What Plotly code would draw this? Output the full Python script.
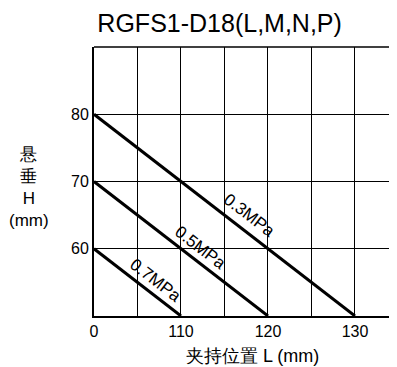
import plotly.graph_objects as go

x_tickvals = [100, 105, 110, 115, 120, 125, 130]
x_ticktext = ["0", "", "110", "", "120", "", "130"]
y_tickvals = [60, 70, 80]

series_names = ["0.3MPa", "0.5MPa", "0.7MPa"]
series_x = [[100, 130], [100, 120], [100, 110]]
series_y = [[80, 50], [70, 50], [60, 50]]
label_pos = [(117.9, 65.0), (112.2, 60.2), (107.1, 55.3)]

font = "Arial, Liberation Sans, sans-serif"
fig = go.Figure()
for n, xs, ys in zip(series_names, series_x, series_y):
    fig.add_trace(go.Scatter(x=xs, y=ys, mode="lines", name=n,
                             line=dict(color="black", width=3), showlegend=False))

for n, (lx, ly) in zip(series_names, label_pos):
    fig.add_annotation(x=lx, y=ly, text=n, showarrow=False, textangle=37.6,
                       font=dict(size=17, color="black", family=font))

fig.add_shape(type="line", xref="paper", yref="paper", x0=0, x1=1, y0=1, y1=1,
              line=dict(color="black", width=1.5))

fig.add_annotation(xref="paper", yref="paper", x=-0.213, y=0.476,
                   xanchor="center", yanchor="middle",
                   text="悬<br>垂<br>H<br>(mm)", showarrow=False, align="center",
                   font=dict(size=17, color="black", family=font))
fig.add_annotation(xref="paper", yref="paper", x=0.523, y=-0.149,
                   xanchor="center", yanchor="middle",
                   text="夹持位置 L (mm)", showarrow=False,
                   font=dict(size=18, color="black", family=font))

fig.update_layout(
    width=389, height=359,
    margin=dict(l=86, r=0, t=39, b=51),
    paper_bgcolor="white", plot_bgcolor="white",
    title=dict(text="RGFS1-D18(L,M,N,P)", x=0.544, xanchor="center", y=0.958, yanchor="middle",
               font=dict(size=25, color="black", family=font)),
    font=dict(family=font, color="black", size=16),
    xaxis=dict(range=[100, 134.83], tickvals=x_tickvals, ticktext=x_ticktext,
               showgrid=True, gridcolor="black", gridwidth=1,
               showline=True, linecolor="black", linewidth=2, ticks="",
               zeroline=False, tickfont=dict(size=16)),
    yaxis=dict(range=[50, 90], tickvals=y_tickvals,
               showgrid=True, gridcolor="black", gridwidth=1,
               showline=True, linecolor="black", linewidth=2, ticks="",
               zeroline=False, tickfont=dict(size=16)),
)
fig.write_html("out.html")
